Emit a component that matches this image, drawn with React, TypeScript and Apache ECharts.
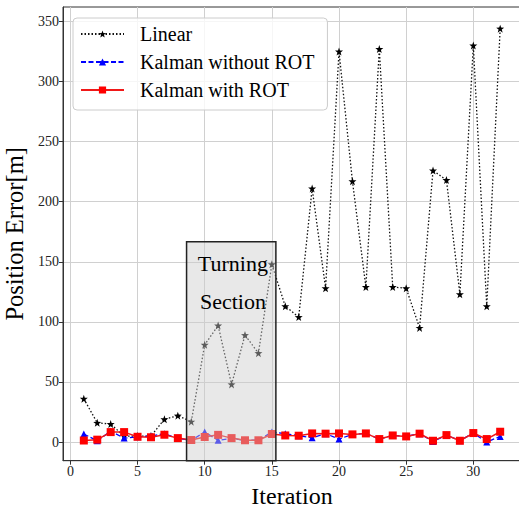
import React, { useEffect, useRef } from "react";
import * as echarts from "echarts";

const iterations = Array.from({ length: 32 }, (_, i) => i + 1);
const linearErr = [36, 16, 15, 5, 5, 5, 19, 22, 17, 81, 97, 48, 89, 74, 148, 113, 104, 211, 128, 325, 217, 129, 327, 129, 128, 95, 226, 218, 123, 330, 113, 344];
const kalmanNoRot = [6.7, 1.0, 9.0, 3.3, 4.4, 5.0, 7.0, 3.0, 1.5, 8.3, 1.5, 3.0, 1.5, 1.5, 8.3, 7.0, 5.3, 3.6, 7.0, 2.5, 6.4, 7.2, 2.5, 5.5, 4.7, 7.0, 0.5, 5.8, 1.1, 7.5, 0.0, 4.7];
const kalmanRot = [1.3, 2.0, 8.3, 8.3, 4.4, 4.0, 6.1, 3.3, 1.7, 4.2, 6.0, 3.3, 1.5, 1.5, 6.7, 5.5, 5.3, 7.2, 7.0, 7.2, 6.4, 7.2, 2.5, 5.5, 4.7, 7.0, 1.1, 5.8, 1.1, 7.5, 2.5, 8.6];

const xTicks = [0, 5, 10, 15, 20, 25, 30];
const yTicks = [0, 50, 100, 150, 200, 250, 300, 350];
const X_MIN = -0.55;
const X_MAX = 33.55;
const Y_MIN = -15.5;
const Y_MAX = 362;

// Turning section box: [xStart, yStart, xEnd, yEnd]
const turningBox = [8.65, Y_MIN, 15.3, 166.7];
const turningLabel = ["Turning", "Section"];
const turningLabelPos = [12.1, 133];

const SERIF = "Liberation Serif";
const STAR = "path://M0,-10 L2.35,-3.24 L9.51,-3.09 L3.8,1.24 L5.88,8.09 L0,4 L-5.88,8.09 L-3.8,1.24 L-9.51,-3.09 L-2.35,-3.24 Z";

const tickRich = { t: { fontFamily: SERIF, fontSize: 14, color: "#222" } };

export default function App() {
  const ref = useRef<HTMLDivElement>(null);
  useEffect(() => {
    const chart = echarts.init(ref.current!, null, { renderer: "svg" });
    const pairs = (arr: number[]) => iterations.map((x, i) => [x, arr[i]]);
    chart.setOption({
      animation: false,
      backgroundColor: "#ffffff",
      textStyle: { fontFamily: SERIF },
      grid: {
        left: 63,
        top: 7,
        width: 458,
        height: 453.7,
        containLabel: false,
        outerBoundsMode: "none",
        show: true,
        borderColor: "#333",
        borderWidth: 1,
        backgroundColor: "transparent",
      },
      legend: {
        orient: "vertical",
        left: 73,
        top: 18,
        itemWidth: 43,
        itemHeight: 9,
        itemGap: 8,
        padding: [6, 13, 10, 7],
        backgroundColor: "rgba(255,255,255,0.8)",
        borderColor: "#cccccc",
        borderWidth: 1,
        borderRadius: 4,
        formatter: (name: string) => "{l|" + name + "}",
        textStyle: {
          fontFamily: SERIF,
          fontSize: 20,
          color: "#000",
          rich: { l: { fontFamily: SERIF, fontSize: 20, color: "#000", padding: [0, 0, 0, 11] } },
        },
        data: ["Linear", "Kalman without ROT", "Kalman with ROT"],
      },
      xAxis: {
        type: "value",
        min: X_MIN,
        max: X_MAX,
        name: "Iteration",
        nameLocation: "middle",
        nameGap: 21,
        nameTextStyle: { fontFamily: SERIF, fontSize: 24, color: "#000" },
        axisLine: { show: true, onZero: false, lineStyle: { color: "#333", width: 1 } },
        axisTick: { show: true, length: 4, customValues: xTicks, lineStyle: { color: "#333" } },
        axisLabel: {
          customValues: xTicks,
          margin: 4,
          fontFamily: SERIF,
          fontSize: 14,
          color: "#222",
          formatter: (v: number) => "{t|" + v + "}",
          rich: tickRich,
        },
        splitLine: { show: true, lineStyle: { color: "#d0d0d0", width: 1 } },
      },
      yAxis: {
        type: "value",
        min: Y_MIN,
        max: Y_MAX,
        name: "Position Error[m]",
        nameLocation: "middle",
        nameGap: 30,
        nameTextStyle: { fontFamily: SERIF, fontSize: 24.5, color: "#000" },
        axisLine: { show: true, onZero: false, lineStyle: { color: "#333", width: 1 } },
        axisTick: { show: true, length: 4, customValues: yTicks, lineStyle: { color: "#333" } },
        axisLabel: {
          customValues: yTicks,
          margin: 4,
          fontFamily: SERIF,
          fontSize: 14,
          color: "#222",
          formatter: (v: number) => "{t|" + v + "}",
          rich: tickRich,
        },
        splitLine: { show: true, lineStyle: { color: "#d0d0d0", width: 1 } },
      },
      series: [
        {
          name: "Linear",
          type: "line",
          data: pairs(linearErr),
          symbol: STAR,
          symbolSize: 8,
          showAllSymbol: true,
          itemStyle: { color: "#000" },
          lineStyle: { color: "#111", width: 1.3, type: [1.5, 2] },
          z: 2,
        },
        {
          name: "Kalman without ROT",
          type: "line",
          data: pairs(kalmanNoRot),
          symbol: "triangle",
          symbolSize: 7,
          itemStyle: { color: "#0000ff" },
          lineStyle: { color: "#0000ff", width: 1.3, type: [5, 2.5] },
          z: 3,
        },
        {
          name: "Kalman with ROT",
          type: "line",
          data: pairs(kalmanRot),
          symbol: "rect",
          symbolSize: 8,
          itemStyle: { color: "#ff0000" },
          lineStyle: { color: "#f01818", width: 1.5 },
          z: 4,
        },
        {
          type: "custom",
          z: 10,
          silent: true,
          data: [turningBox],
          renderItem: (params: any, api: any) => {
            const p0 = api.coord([api.value(0), api.value(3)]);
            const p1 = api.coord([api.value(2), api.value(1)]);
            const t = api.coord(turningLabelPos);
            return {
              type: "group",
              children: [
                {
                  type: "rect",
                  shape: { x: p0[0], y: p0[1], width: p1[0] - p0[0], height: p1[1] - p0[1] },
                  style: { fill: "rgba(205,205,205,0.45)", stroke: "#222", lineWidth: 1.5 },
                },
                {
                  type: "text",
                  x: t[0],
                  y: t[1],
                  style: {
                    text: turningLabel.join("\n"),
                    align: "center",
                    verticalAlign: "middle",
                    fontFamily: SERIF,
                    fontSize: 22,
                    lineHeight: 38,
                    fill: "#000",
                  },
                },
              ],
            };
          },
        },
      ],
    });
    return () => chart.dispose();
  }, []);
  return (
    <div
      ref={ref}
      style={{ position: "fixed", left: 0, top: 0, width: 519, height: 510, background: "#fff" }}
    />
  );
}
